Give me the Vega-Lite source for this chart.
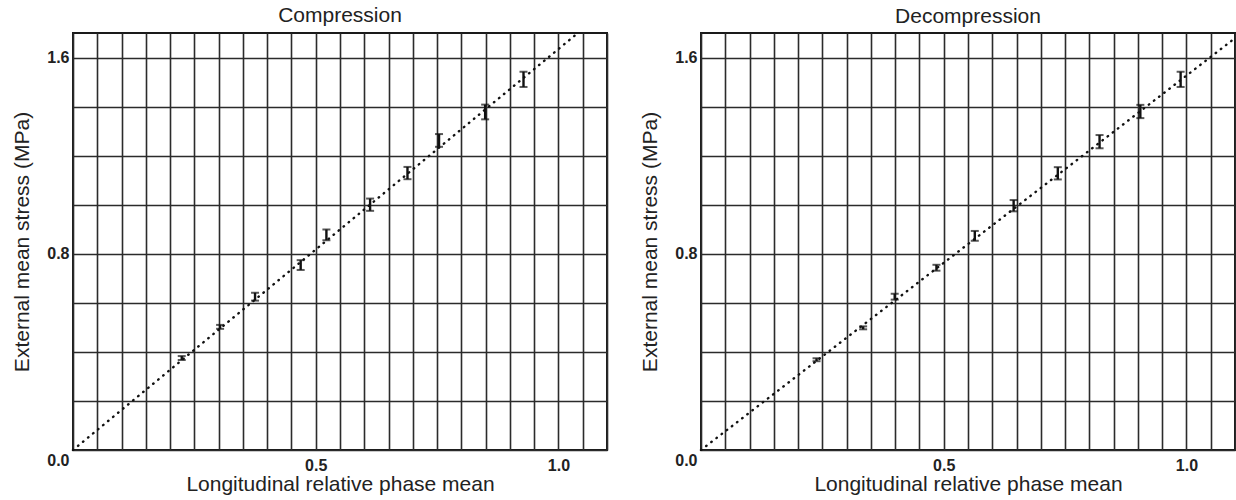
{
  "$schema": "https://vega.github.io/schema/vega-lite/v6.json",
  "padding": {"left": 10, "top": 4, "right": 0, "bottom": 0},
  "background": "white",
  "spacing": 94,
  "bounds": "flush",
  "datasets": {
    "comp": [
      {"phase": 0.224, "stress": 0.375, "lo": 0.367, "hi": 0.383},
      {"phase": 0.303, "stress": 0.502, "lo": 0.494, "hi": 0.510},
      {"phase": 0.375, "stress": 0.625, "lo": 0.609, "hi": 0.641},
      {"phase": 0.469, "stress": 0.754, "lo": 0.734, "hi": 0.774},
      {"phase": 0.522, "stress": 0.877, "lo": 0.855, "hi": 0.899},
      {"phase": 0.612, "stress": 1.000, "lo": 0.975, "hi": 1.025},
      {"phase": 0.689, "stress": 1.129, "lo": 1.104, "hi": 1.154},
      {"phase": 0.754, "stress": 1.262, "lo": 1.236, "hi": 1.288},
      {"phase": 0.849, "stress": 1.378, "lo": 1.348, "hi": 1.408},
      {"phase": 0.928, "stress": 1.511, "lo": 1.480, "hi": 1.542}
    ],
    "decomp": [
      {"phase": 0.238, "stress": 0.368, "lo": 0.362, "hi": 0.374},
      {"phase": 0.334, "stress": 0.498, "lo": 0.492, "hi": 0.504},
      {"phase": 0.399, "stress": 0.625, "lo": 0.613, "hi": 0.637},
      {"phase": 0.485, "stress": 0.743, "lo": 0.731, "hi": 0.755},
      {"phase": 0.564, "stress": 0.873, "lo": 0.853, "hi": 0.893},
      {"phase": 0.644, "stress": 0.996, "lo": 0.973, "hi": 1.019},
      {"phase": 0.735, "stress": 1.128, "lo": 1.103, "hi": 1.153},
      {"phase": 0.821, "stress": 1.257, "lo": 1.230, "hi": 1.284},
      {"phase": 0.905, "stress": 1.380, "lo": 1.353, "hi": 1.407},
      {"phase": 0.988, "stress": 1.511, "lo": 1.480, "hi": 1.542}
    ],
    "compFit": [
      {"phase": 0, "stress": 0},
      {"phase": 1.04, "stress": 1.7}
    ],
    "decompFit": [
      {"phase": 0, "stress": 0},
      {"phase": 1.1, "stress": 1.679}
    ]
  },
  "hconcat": [
    {
      "title": "Compression",
      "width": 534,
      "height": 417,
      "encoding": {
        "x": {"field": "phase", "type": "quantitative", "title": "Longitudinal relative phase mean",
          "scale": {"domain": [0, 1.1], "nice": false, "zero": false},
          "axis": {
            "values": [0, 0.05, 0.1, 0.15, 0.2, 0.25, 0.3, 0.35, 0.4, 0.45, 0.5, 0.55, 0.6, 0.65, 0.7, 0.75, 0.8, 0.85, 0.9, 0.95, 1.0, 1.05, 1.1],
            "labelExpr": "(round(datum.value*20)==10 || round(datum.value*20)==20) ? format(datum.value,'.1f') : ''",
            "labelPadding": 7, "titlePadding": 0
          }}
      },
      "layer": [
        {
          "data": {"name": "compFit"},
          "mark": {"type": "line", "color": "#111", "strokeWidth": 2.4, "strokeDash": [0.5, 6], "strokeCap": "round"},
          "encoding": {
            "y": {"field": "stress", "type": "quantitative", "title": "External mean stress (MPa)",
              "scale": {"domain": [0, 1.7], "nice": false, "zero": false},
              "axis": {
                "values": [0, 0.1, 0.2, 0.3, 0.4, 0.5, 0.6, 0.7, 0.8, 0.9, 1.0, 1.1, 1.2, 1.3, 1.4, 1.5, 1.6, 1.7],
                "labelExpr": "indexof([0,8,16], round(datum.value*10)) >= 0 ? format(datum.value,'.1f') : ''",
                "labelPadding": 4,
                "labelOffset": {"condition": {"test": "datum.value == 0", "value": 10}, "value": 0},
                "titlePadding": 14
              }}
          }
        },
        {
          "data": {"name": "comp"},
          "mark": {"type": "rule", "color": "#111", "strokeWidth": 2.4},
          "encoding": {
            "y": {"field": "lo", "type": "quantitative", "title": "External mean stress (MPa)"},
            "y2": {"field": "hi"}
          }
        },
        {
          "data": {"name": "comp"},
          "mark": {"type": "tick", "orient": "horizontal", "color": "#111", "size": 8, "thickness": 2},
          "encoding": {
            "y": {"field": "lo", "type": "quantitative", "title": "External mean stress (MPa)"}
          }
        },
        {
          "data": {"name": "comp"},
          "mark": {"type": "tick", "orient": "horizontal", "color": "#111", "size": 8, "thickness": 2},
          "encoding": {
            "y": {"field": "hi", "type": "quantitative", "title": "External mean stress (MPa)"}
          }
        }
      ]
    },
    {
      "title": {"text": "Decompression", "dy": -4},
      "width": 534,
      "height": 417,
      "encoding": {
        "x": {"field": "phase", "type": "quantitative", "title": "Longitudinal relative phase mean",
          "scale": {"domain": [0, 1.1], "nice": false, "zero": false},
          "axis": {
            "values": [0, 0.05, 0.1, 0.15, 0.2, 0.25, 0.3, 0.35, 0.4, 0.45, 0.5, 0.55, 0.6, 0.65, 0.7, 0.75, 0.8, 0.85, 0.9, 0.95, 1.0, 1.05, 1.1],
            "labelExpr": "(round(datum.value*20)==10 || round(datum.value*20)==20) ? format(datum.value,'.1f') : ''",
            "labelPadding": 7, "titlePadding": 0
          }}
      },
      "layer": [
        {
          "data": {"name": "decompFit"},
          "mark": {"type": "line", "color": "#111", "strokeWidth": 2.4, "strokeDash": [0.5, 6], "strokeCap": "round"},
          "encoding": {
            "y": {"field": "stress", "type": "quantitative", "title": "External mean stress (MPa)",
              "scale": {"domain": [0, 1.7], "nice": false, "zero": false},
              "axis": {
                "values": [0, 0.1, 0.2, 0.3, 0.4, 0.5, 0.6, 0.7, 0.8, 0.9, 1.0, 1.1, 1.2, 1.3, 1.4, 1.5, 1.6, 1.7],
                "labelExpr": "indexof([0,8,16], round(datum.value*10)) >= 0 ? format(datum.value,'.1f') : ''",
                "labelPadding": 4,
                "labelOffset": {"condition": {"test": "datum.value == 0", "value": 10}, "value": 0},
                "titlePadding": 14
              }}
          }
        },
        {
          "data": {"name": "decomp"},
          "mark": {"type": "rule", "color": "#111", "strokeWidth": 2.4},
          "encoding": {
            "y": {"field": "lo", "type": "quantitative", "title": "External mean stress (MPa)"},
            "y2": {"field": "hi"}
          }
        },
        {
          "data": {"name": "decomp"},
          "mark": {"type": "tick", "orient": "horizontal", "color": "#111", "size": 8, "thickness": 2},
          "encoding": {
            "y": {"field": "lo", "type": "quantitative", "title": "External mean stress (MPa)"}
          }
        },
        {
          "data": {"name": "decomp"},
          "mark": {"type": "tick", "orient": "horizontal", "color": "#111", "size": 8, "thickness": 2},
          "encoding": {
            "y": {"field": "hi", "type": "quantitative", "title": "External mean stress (MPa)"}
          }
        }
      ]
    }
  ],
  "config": {
    "font": "Liberation Sans",
    "view": {"stroke": "#1a1a1a", "strokeWidth": 2},
    "title": {"fontSize": 21, "fontWeight": "normal", "font": "Liberation Sans", "color": "#222", "offset": 2, "frame": "group"},
    "axis": {
      "domain": false,
      "ticks": false,
      "tickSize": 0,
      "grid": true,
      "gridColor": "#2b2b2b",
      "gridWidth": 1.6,
      "gridOpacity": 1,
      "labelFont": "Liberation Sans",
      "labelFontWeight": "bold",
      "labelFontSize": 16,
      "labelColor": "#222",
      "labelOverlap": false,
      "labelFlush": false,
      "titleFont": "Liberation Sans",
      "titleFontWeight": "normal",
      "titleFontSize": 21,
      "titleColor": "#222"
    }
  }
}
